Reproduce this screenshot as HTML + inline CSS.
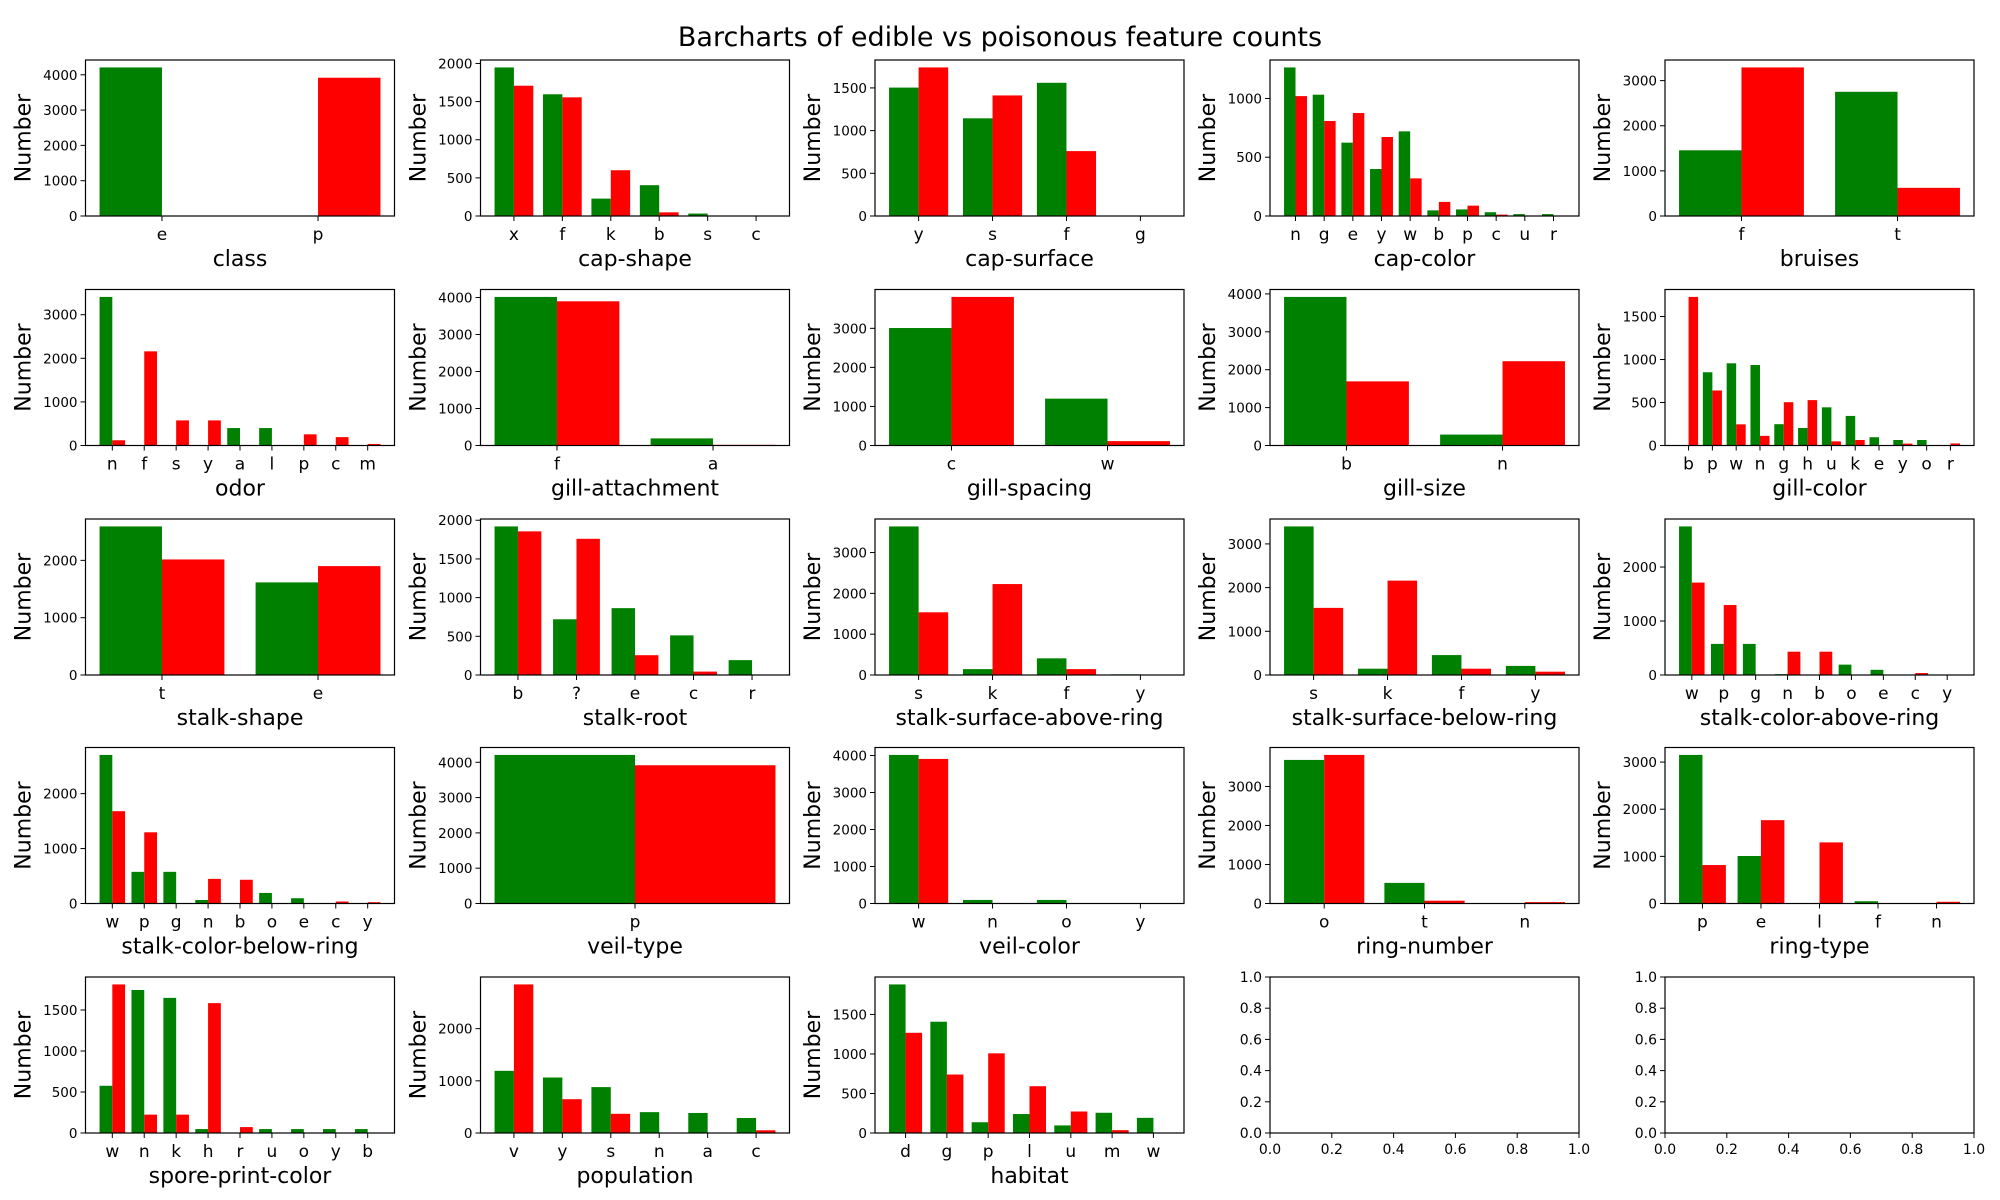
<!DOCTYPE html>
<html><head><meta charset="utf-8">
<style>
html,body{margin:0;padding:0;background:#fff;}
svg{display:block;font-family:"DejaVu Sans","Liberation Sans",sans-serif;}
</style></head>
<body>
<svg id="fig" width="2000" height="1200" viewBox="0 0 2000 1200" xmlns="http://www.w3.org/2000/svg">
<rect width="2000" height="1200" fill="#fff"/>
<text x="1000" y="46" text-anchor="middle" font-size="27">Barcharts of edible vs poisonous feature counts</text>
</svg>
<script>
const featureNames = ["class","cap-shape","cap-surface","cap-color","bruises","odor","gill-attachment","gill-spacing","gill-size","gill-color","stalk-shape","stalk-root","stalk-surface-above-ring","stalk-surface-below-ring","stalk-color-above-ring","stalk-color-below-ring","veil-type","veil-color","ring-number","ring-type","spore-print-color","population","habitat"];
const categories = [
 ["e","p"],["x","f","k","b","s","c"],["y","s","f","g"],["n","g","e","y","w","b","p","c","u","r"],["f","t"],
 ["n","f","s","y","a","l","p","c","m"],["f","a"],["c","w"],["b","n"],["b","p","w","n","g","h","u","k","e","y","o","r"],
 ["t","e"],["b","?","e","c","r"],["s","k","f","y"],["s","k","f","y"],["w","p","g","n","b","o","e","c","y"],
 ["w","p","g","n","b","o","e","c","y"],["p"],["w","n","o","y"],["o","t","n"],["p","e","l","f","n"],
 ["w","n","k","h","r","u","o","y","b"],["v","y","s","n","a","c"],["d","g","p","l","u","m","w"]
];
const edibleCounts = [
 [4208,0],[1948,1596,228,404,32,0],[1504,1144,1560,0],[1264,1032,624,400,720,48,56,32,16,16],[1456,2752],
 [3408,0,0,0,400,400,0,0,0],[4016,192],[3008,1200],[3920,288],[0,852,956,936,248,204,444,344,96,64,64,0],
 [2592,1616],[1920,720,864,512,192],[3640,144,408,16],[3400,144,456,208],[2752,576,576,16,0,192,96,0,0],
 [2704,576,576,64,0,192,96,0,0],[4208],[4016,96,96,0],[3680,528,0],[3152,1008,0,48,0],
 [576,1744,1648,48,0,48,48,48,48],[1192,1064,880,400,384,288],[1880,1408,136,240,96,256,192]
];
const poisonousCounts = [
 [0,3916],[1708,1556,600,48,0,4],[1740,1412,760,4],[1020,808,876,672,320,120,88,12,0,0],[3292,624],
 [120,2160,576,576,0,0,256,192,36],[3898,18],[3804,112],[1692,2224],[1728,640,246,112,504,528,48,64,0,22,0,24],
 [2016,1900],[1856,1760,256,44,0],[1536,2228,144,8],[1536,2160,144,76],[1712,1296,0,432,432,0,0,36,8],
 [1680,1296,0,448,432,0,0,36,24],[3916],[3908,0,0,8],[3808,72,36],[816,1768,1296,0,36],
 [1812,224,224,1584,72,0,0,0,0],[2848,648,368,0,0,52],[1268,740,1008,592,272,36,0]
];
const yTickSteps = [1000,500,500,500,1000,1000,1000,1000,1000,500,1000,500,1000,1000,1000,1000,1000,1000,1000,1000,500,1000,500];
const emptyTicks = ["0.0","0.2","0.4","0.6","0.8","1.0"];

const svg = document.getElementById('fig');
const NS = 'http://www.w3.org/2000/svg';
const colLeft = [85.5,480.5,875,1270,1665], rowTop=[60,289.5,519,747.5,977], AW=309, AH=156;
function mk(tag, attrs){const e=document.createElementNS(NS,tag);for(const k in attrs)e.setAttribute(k,attrs[k]);return e;}

function panelFrame(g,x0,y0){
  const r=mk('rect',{x:x0,y:y0,width:AW,height:AH,fill:'none',stroke:'#000','stroke-width':1.2});
  
  
  g.appendChild(r);
}
for(let p=0;p<25;p++){
  const x0=colLeft[p%5], y0=rowTop[Math.floor(p/5)];
  const g=mk('g',{});
  svg.appendChild(g);
  if(p>=featureNames.length){
    
    
    emptyTicks.forEach((t,i)=>{
      const fx=x0+AW*i/5, fy=y0+AH-AH*i/5;
      g.appendChild(mk('line',{x1:fx,y1:y0+AH,x2:fx,y2:y0+AH+5,stroke:'#000'}));
      const tx=mk('text',{x:fx,y:y0+AH+21,'text-anchor':'middle','font-size':14});tx.textContent=t;
      
      
      g.appendChild(tx);
      g.appendChild(mk('line',{x1:x0-5,y1:fy,x2:x0,y2:fy,stroke:'#000'}));
      const ty=mk('text',{x:x0-8,y:fy+5,'text-anchor':'end','font-size':14});ty.textContent=t;
      
      
      g.appendChild(ty);
    });
    panelFrame(g,x0,y0);
    continue;
  }
  
  
  const cats=categories[p], ed=edibleCounts[p], po=poisonousCounts[p], n=cats.length;
  const w=0.4, span=(n-1)+2*w, xmin=-w-0.05*span, xmax=(n-1)+w+0.05*span;
  const ymax=Math.max(...ed,...po)*1.05;
  const X=v=>x0+(v-xmin)/(xmax-xmin)*AW;
  const Y=v=>y0+AH-v/ymax*AH;
  cats.forEach((c,i)=>{
    const gb=mk('rect',{x:X(i-w),y:Y(ed[i]),width:X(i)-X(i-w),height:Y(0)-Y(ed[i]),fill:'#008000'});
    
    
    g.appendChild(gb);
    const rb=mk('rect',{x:X(i),y:Y(po[i]),width:X(i+w)-X(i),height:Y(0)-Y(po[i]),fill:'#ff0000'});
    
    
    g.appendChild(rb);
    g.appendChild(mk('line',{x1:X(i),y1:y0+AH,x2:X(i),y2:y0+AH+5,stroke:'#000'}));
    const tx=mk('text',{x:X(i),y:y0+AH+24,'text-anchor':'middle','font-size':17});tx.textContent=c;
    
    
    g.appendChild(tx);
  });
  const st=yTickSteps[p];
  for(let v=0;v<=ymax;v+=st){
    const fy=Y(v);
    g.appendChild(mk('line',{x1:x0-5,y1:fy,x2:x0,y2:fy,stroke:'#000'}));
    const ty=mk('text',{x:x0-8,y:fy+5,'text-anchor':'end','font-size':13.5});ty.textContent=String(v);
    
    
    g.appendChild(ty);
  }
  panelFrame(g,x0,y0);
  const yl=mk('text',{x:0,y:0,'text-anchor':'middle','font-size':22,transform:`translate(${x0-55},${y0+AH/2}) rotate(-90)`});
  yl.textContent='Number';
  
  
  g.appendChild(yl);
  const xl=mk('text',{x:x0+AW/2,y:y0+AH+50,'text-anchor':'middle','font-size':22});
  xl.textContent=featureNames[p];
  
  
  g.appendChild(xl);
}
</script>
</body></html>
